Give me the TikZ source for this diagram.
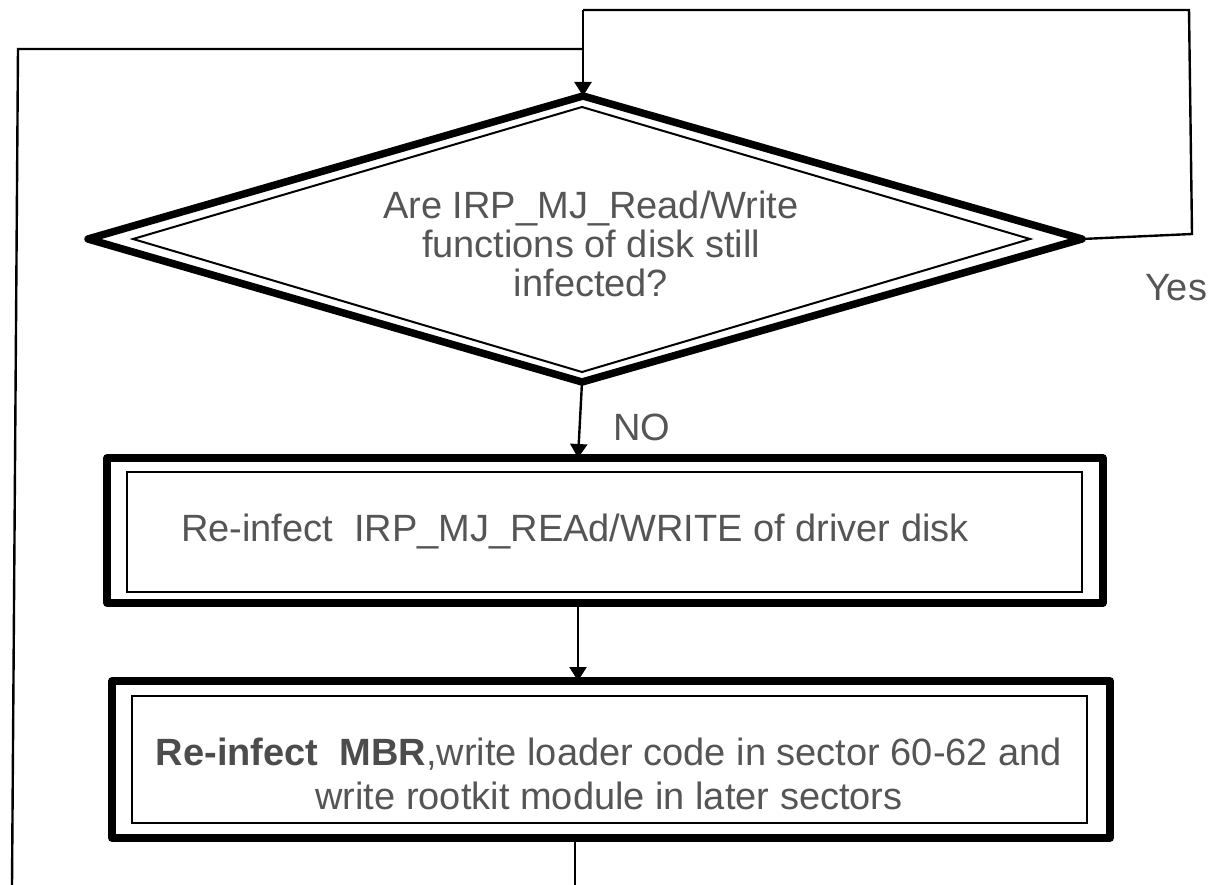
\documentclass[tikz,border=0pt]{standalone}
\usepackage{fontspec}
\setmainfont{Liberation Sans}
\usetikzlibrary{arrows.meta}
\definecolor{txtgray}{HTML}{555555}
\tikzset{
  outerline/.style={line width=7.5pt, line join=round},
  innerline/.style={line width=2pt},
  link/.style={line width=2.4pt},
  arrowlink/.style={link, -{Triangle[width=17pt,length=14pt]}},
  label/.style={text=txtgray, font=\fontsize{38}{40}\selectfont, align=center, inner sep=0pt},
}
\begin{document}
\begin{tikzpicture}[x=1pt,y=-1pt]
\useasboundingbox (0,0) rectangle (1214,885);

% decision diamond: outer thick outline, inner thin outline
\coordinate (dT) at (583,96);
\coordinate (dL) at (88,239);
\coordinate (dR) at (1082,239);
\coordinate (dB) at (582,382);
\draw[outerline] (dT) -- (dR) -- (dB) -- (dL) -- cycle;
\draw[innerline] (582,107) -- (1030,239) -- (582,372) -- (133,239) -- cycle;
\node[label, font=\fontsize{38}{39}\selectfont] (ask) at (591,244)
  {Are IRP\_MJ\_Read/Write\\functions of disk still\\infected?};

% first process box
\draw[outerline] (107,458) rectangle (1103,603);
\draw[innerline] (127,472) rectangle (1082,592);
\coordinate (b1T) at (578,458);
\coordinate (b1B) at (578,603);
\node[label] (hook) at (575,532) {Re-infect\ \ IRP\_MJ\_REAd/WRITE of driver disk};

% second process box
\draw[outerline] (112,681) rectangle (1110,838);
\draw[innerline] (132,696) rectangle (1087,823);
\coordinate (b2T) at (578,681);
\coordinate (b2B) at (575,838);
\node[label, font=\fontsize{38}{44}\selectfont] (mbr) at (609,774)
  {\textcolor{black!70}{\textbf{Re-infect\ \ MBR}},write loader code in sector 60-62 and\\write rootkit module in later sectors};

% connectors
\draw[arrowlink] (dB) -- (b1T);
\node[label] (no) at (642,427) {NO};
\draw[arrowlink] (b1B) -- (b2T);

% "Yes" loop back to the top of the decision
\coordinate (yR) at (1192,234);
\coordinate (yTR) at (1189,10);
\coordinate (yTL) at (583,10);
\draw[link] (dR) -- (yR) -- (yTR) -- (yTL);
\draw[arrowlink] (yTL) -- (dT);
\node[label] (yes) at (1176,288) {Yes};

% return path from below joining the top entry
\coordinate (lB) at (12,886);
\coordinate (lT) at (18,49);
\coordinate (lJ) at (583,49);
\draw[link] (lB) -- (lT) -- (lJ);

% continuation below the second box
\coordinate (outB) at (575,886);
\draw[link] (b2B) -- (outB);
\end{tikzpicture}
\end{document}
